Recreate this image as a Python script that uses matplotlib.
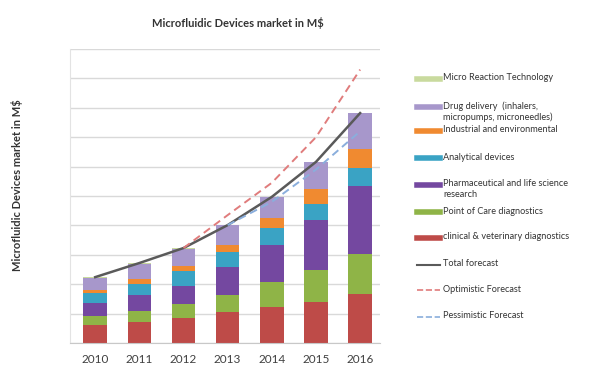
import matplotlib.pyplot as plt
import numpy as np
from matplotlib.lines import Line2D

plt.rcParams['font.family'] = ['Lato', 'DejaVu Sans']

years = ['2010', '2011', '2012', '2013', '2014', '2015', '2016']

# Segment values per year (market in M$, stacked bottom to top)
clinical = [0.61, 0.71, 0.85, 1.05, 1.22, 1.39, 1.67]
point_of_care = [0.31, 0.37, 0.48, 0.58, 0.85, 1.09, 1.36]
pharma = [0.44, 0.54, 0.61, 0.95, 1.26, 1.70, 2.31]
analytical = [0.34, 0.40, 0.51, 0.51, 0.58, 0.54, 0.61]
industrial = [0.10, 0.17, 0.17, 0.24, 0.34, 0.51, 0.65]
drug_delivery = [0.41, 0.50, 0.58, 0.68, 0.71, 0.92, 1.22]
micro_reaction = [0.03, 0.03, 0.03, 0.02, 0.02, 0.02, 0.02]

total_forecast = [2.24, 2.72, 3.23, 4.01, 4.97, 6.16, 7.82]
optimistic_years = ['2012', '2013', '2014', '2015', '2016']
optimistic = [3.23, 4.35, 5.45, 7.00, 9.30]
pessimistic_years = ['2013', '2014', '2015', '2016']
pessimistic = [4.01, 4.80, 5.90, 7.20]

series = [
    ('clinical & veterinary diagnostics', clinical, '#BE4B48'),
    ('Point of Care diagnostics', point_of_care, '#8FB447'),
    ('Pharmaceutical and life science\nresearch', pharma, '#7448A0'),
    ('Analytical devices', analytical, '#3AA3C4'),
    ('Industrial and environmental', industrial, '#F08A30'),
    ('Drug delivery  (inhalers,\nmicropumps, microneedles)', drug_delivery, '#A797CB'),
    ('Micro Reaction Technology', micro_reaction, '#C9DA9E'),
]

fig = plt.figure(figsize=(5.95, 3.69), dpi=100)
ax = fig.add_axes([70/595, 26/369, 310/595, 294/369])

x = np.arange(len(years))
bottom = np.zeros(len(years))
for label, vals, color in series:
    ax.bar(x, vals, width=0.53, bottom=bottom, color=color, zorder=2)
    bottom += np.array(vals)

ax.plot(x, total_forecast, color='#5A5A5A', lw=1.8, zorder=3)
ax.plot([years.index(y) for y in optimistic_years], optimistic,
        color='#E07C7C', lw=1.4, ls=(0, (4, 2.5)), zorder=3)
ax.plot([years.index(y) for y in pessimistic_years], pessimistic,
        color='#8AAEDC', lw=1.4, ls=(0, (4, 2.5)), zorder=3)

ax.set_xlim(-0.57, 6.45)
ax.set_ylim(0, 10)
ax.set_yticks(np.arange(0, 11, 1))
ax.set_yticklabels([])
ax.tick_params(axis='y', length=0)
ax.tick_params(axis='x', length=0, pad=8, labelsize=8.5, labelcolor='#404040')
ax.set_xticks(x)
ax.set_xticklabels(years)
ax.grid(axis='y', color='#D9D9D9', lw=1, zorder=0)
for side in ['top', 'right']:
    ax.spines[side].set_visible(False)
ax.spines['left'].set_color('#E3E3E3')
ax.spines['bottom'].set_color('#C8C8C8')

fig.text(238/595, 1 - 23/369, 'Microfluidic Devices market in M$', ha='center', va='center',
         fontsize=8, fontweight='bold', color='#333333')
fig.text(17/595, 1 - 185/369, 'Microfluidic Devices market in M$', ha='center', va='center',
         rotation=90, fontsize=8, fontweight='bold', color='#333333')

# Legend, listed top to bottom
legend_rows = [(lab, col, '-', 4) for lab, _, col in reversed(series)] + [
    ('Total forecast', '#5A5A5A', '-', 1.5),
    ('Optimistic Forecast', '#E07C7C', '--', 1.2),
    ('Pessimistic Forecast', '#8AAEDC', '--', 1.2),
]
row_y = [79, 107, 131, 158, 185, 212, 238, 265, 290, 317]
for (lab, col, ls, lw), yp in zip(legend_rows, row_y):
    yf = 1 - yp/369
    fig.add_artist(Line2D([417/595, 440/595], [yf, yf], color=col, ls=ls, lw=lw,
                          transform=fig.transFigure))
    fig.text(443/595, yf + 5.5/369, lab, ha='left', va='top', fontsize=6.6,
             color='#333333', linespacing=1.2)

fig.savefig('out.png', dpi=100)
